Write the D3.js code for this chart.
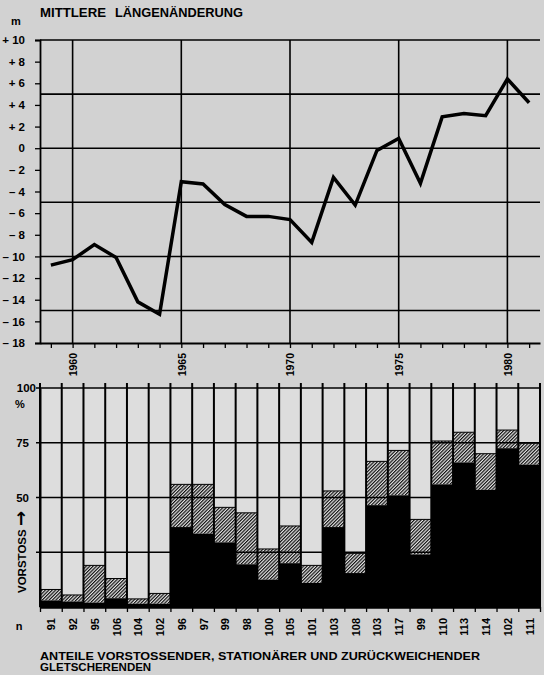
<!DOCTYPE html>
<html><head><meta charset="utf-8">
<script src="https://cdn.jsdelivr.net/npm/d3@7"></script>
<style>
html,body{margin:0;padding:0;background:#d2d2d2;}
svg{display:block;font-family:"Liberation Sans",Arial,sans-serif;font-weight:bold;}
</style></head>
<body><svg id="c" width="544" height="675"></svg>
<script>
// ---- data ----
const years = [1959,1960,1961,1962,1963,1964,1965,1966,1967,1968,1969,1970,1971,1972,1973,1974,1975,1976,1977,1978,1979,1980,1981];
const lengthChange = [-10.8,-10.3,-8.9,-10.1,-14.2,-15.35,-3.1,-3.3,-5.2,-6.3,-6.3,-6.6,-8.7,-2.7,-5.25,-0.2,0.9,-3.25,2.9,3.2,3.0,6.4,4.2];
const nGlaciers = [91,92,95,106,104,102,96,97,99,98,100,105,101,103,108,103,117,99,110,113,114,102,111];
const advancing = [3,2.5,2,4,1.5,1.5,36.5,33.5,29.5,19.5,12.5,20,11,36.5,15.5,46.5,51,24,56,66,53.5,72.5,65];
const stationary = [5,3,17,9,2.2,4.7,19.5,22.5,16,23.5,14,17,8,16.5,9,20,20.5,16,19.8,13.8,16.5,8.3,9.8];
const topTicks = [-18,-16,-14,-12,-10,-8,-6,-4,-2,0,2,4,6,8,10];
const topGrid = [-15,-10,-5,0,5,10];
const yearLabels = [1960,1965,1970,1975,1980];
const pctLabels = [100,75,50];
const pctGrid = [25,50,75,100];

const FONT = "Liberation Sans, Arial, sans-serif";
const svg = d3.select("#c");
svg.append("rect").attr("width",544).attr("height",675).attr("fill","#d2d2d2");

const L = 40, R = 540;
const x = d3.scaleLinear().domain([1958.5,1981.5]).range([L,R]);
const yT = d3.scaleLinear().domain([-18,10]).range([343,40]);
const yB = d3.scaleLinear().domain([0,100]).range([607,388]);

// defs: hatch
const defs = svg.append("defs");
const pat = defs.append("pattern").attr("id","hatch").attr("patternUnits","userSpaceOnUse")
  .attr("width",2.4).attr("height",2.4).attr("patternTransform","rotate(45)");
pat.append("rect").attr("width",2.4).attr("height",2.4).attr("fill","#e4e4e4");
pat.append("line").attr("x1",0.6).attr("y1",0).attr("x2",0.6).attr("y2",2.4).attr("stroke","#111").attr("stroke-width",1.2);

// ---------- TOP CHART ----------
svg.append("text").attr("x",40).attr("y",17).attr("font-size",12).attr("textLength",66).attr("lengthAdjust","spacingAndGlyphs").text("MITTLERE");
svg.append("text").attr("x",115).attr("y",17).attr("font-size",12).attr("textLength",128).attr("lengthAdjust","spacingAndGlyphs").text("LÄNGENÄNDERUNG");
svg.append("text").attr("x",16).attr("y",25).attr("font-size",11).attr("text-anchor","middle").text("m");

const gT = svg.append("g");
gT.selectAll("line.hg").data(topGrid).join("line")
  .attr("x1",L).attr("x2",R).attr("y1",d=>yT(d)).attr("y2",d=>yT(d))
  .attr("stroke","#000").attr("stroke-width",1.6);
gT.selectAll("line.vg").data(yearLabels).join("line")
  .attr("x1",d=>x(d)).attr("x2",d=>x(d)).attr("y1",yT(10)).attr("y2",yT(-18))
  .attr("stroke","#000").attr("stroke-width",1.6);

// left axis
const axL = d3.axisLeft(yT).tickValues(topTicks).tickSize(5).tickPadding(10)
  .tickFormat(d => d>0 ? "+ "+d : d<0 ? "\u2013 "+(-d) : "0");
const gAL = gT.append("g").attr("transform",`translate(${L},0)`).call(axL);
gAL.select(".domain").attr("stroke","#000").attr("stroke-width",1.8);
gAL.selectAll(".tick line").attr("stroke","#000").attr("stroke-width",1.3);
gAL.selectAll("text").attr("font-size",11.5).attr("font-weight","bold").attr("fill","#000").attr("font-family",FONT);

// bottom axis
const axB = d3.axisBottom(x).tickValues(years).tickSize(5).tickSizeOuter(0)
  .tickFormat(d => yearLabels.includes(d) ? d : "");
const gAB = gT.append("g").attr("transform",`translate(0,${yT(-18)})`).call(axB);
gAB.select(".domain").attr("stroke","#000").attr("stroke-width",2);
gAB.selectAll(".tick line").attr("stroke","#000").attr("stroke-width",1.3);
gAB.selectAll("text").attr("font-size",10.5).attr("font-weight","bold").attr("fill","#000")
  .attr("font-family",FONT)
  .attr("text-anchor","end").attr("transform","translate(0,10) rotate(-90)").attr("x",0).attr("y",0).attr("dy","0.36em");

// line
const line = d3.line().x((d,i)=>x(years[i])).y(d=>yT(d));
gT.append("path").datum(lengthChange).attr("d",line).attr("fill","none")
  .attr("stroke","#000").attr("stroke-width",3.5).attr("stroke-linejoin","miter");

// ---------- BOTTOM CHART ----------
const gB = svg.append("g");
const bw = x(1960)-x(1959);
gB.selectAll("rect.light").data(years).join("rect")
  .attr("x",d=>x(d)-bw/2+1).attr("width",bw-2)
  .attr("y",yB(100)).attr("height",yB(0)-yB(100)).attr("fill","#dddddd");
gB.selectAll("rect.st").data(years).join("rect")
  .attr("x",d=>x(d)-bw/2).attr("width",bw)
  .attr("y",(d,i)=>yB(advancing[i]+stationary[i]))
  .attr("height",(d,i)=>yB(advancing[i])-yB(advancing[i]+stationary[i]))
  .attr("fill","url(#hatch)");
gB.selectAll("line.st").data(years).join("line")
  .attr("x1",d=>x(d)-bw/2).attr("x2",d=>x(d)+bw/2)
  .attr("y1",(d,i)=>yB(advancing[i]+stationary[i])).attr("y2",(d,i)=>yB(advancing[i]+stationary[i]))
  .attr("stroke","#000").attr("stroke-width",1);
gB.selectAll("rect.adv").data(years).join("rect")
  .attr("x",d=>x(d)-bw/2).attr("width",bw)
  .attr("y",(d,i)=>yB(advancing[i]))
  .attr("height",(d,i)=>yB(0)-yB(advancing[i]))
  .attr("fill","#000");
gB.selectAll("line.hg").data(pctGrid).join("line")
  .attr("x1",L-4).attr("x2",R).attr("y1",d=>yB(d)).attr("y2",d=>yB(d))
  .attr("stroke","#000").attr("stroke-width",1.6);
const bounds = years.map(d=>d-0.5).concat([years[years.length-1]+0.5]);
gB.selectAll("line.sep").data(bounds).join("line")
  .attr("x1",d=>x(d)).attr("x2",d=>x(d)).attr("y1",yB(100)-5).attr("y2",yB(0))
  .attr("stroke","#000").attr("stroke-width",2);
const axBB = d3.axisBottom(x).tickValues(bounds).tickSize(5).tickSizeOuter(0).tickFormat("");
const gBB = gB.append("g").attr("transform",`translate(0,${yB(0)})`).call(axBB);
gBB.select(".domain").attr("stroke","#000").attr("stroke-width",2.4);
gBB.selectAll(".tick line").attr("stroke","#000").attr("stroke-width",1.3);
const axN = d3.axisBottom(x).tickValues(years).tickSize(0).tickFormat((d,i)=>nGlaciers[i]);
const gN = gB.append("g").attr("transform",`translate(0,${yB(0)})`).call(axN);
gN.select(".domain").remove();
gN.selectAll("text").attr("font-size",11).attr("font-weight","bold").attr("fill","#000")
  .attr("font-family",FONT)
  .attr("text-anchor","end").attr("transform","translate(0,11) rotate(-90)").attr("x",0).attr("y",0).attr("dy","0.36em");
svg.append("text").attr("x",19).attr("y",630).attr("font-size",11).attr("text-anchor","middle").text("n");

// left labels
const axP = d3.axisLeft(yB).tickValues(pctLabels).tickSize(0).tickPadding(11).tickFormat(d=>d);
const gP = gB.append("g").attr("transform",`translate(${L},0)`).call(axP);
gP.select(".domain").attr("stroke","#000").attr("stroke-width",2);
gP.selectAll("text").attr("font-size",11.5).attr("font-weight","bold").attr("fill","#000")
  .attr("font-family",FONT)
  .attr("x",d=>d===100?-4:-11);
svg.append("text").attr("x",20).attr("y",408).attr("font-size",11).attr("text-anchor","middle").text("%");
svg.append("text").attr("transform","translate(26,593) rotate(-90)").attr("font-size",11.5).text("VORSTOSS");
svg.append("text").attr("transform","translate(26.5,526) rotate(-90)").attr("font-size",18)
  .attr("font-family","DejaVu Sans, sans-serif").attr("dy","0.05em").text("\u2192");

// bottom title
svg.append("text").attr("x",40).attr("y",660).attr("font-size",11.5).attr("textLength",440).attr("lengthAdjust","spacingAndGlyphs")
  .text("ANTEILE VORSTOSSENDER, STATIONÄRER UND ZURÜCKWEICHENDER");
svg.append("text").attr("x",40).attr("y",671).attr("font-size",11.5)
  .text("GLETSCHERENDEN");
</script></body></html>
